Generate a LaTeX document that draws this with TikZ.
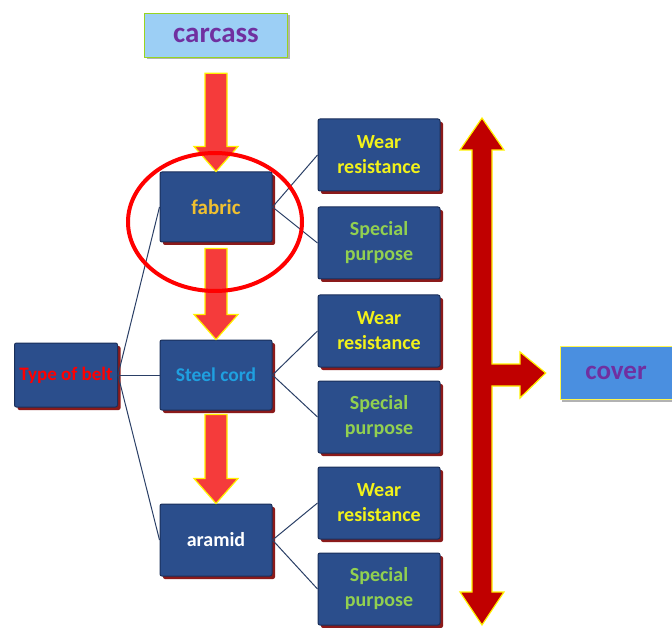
\documentclass[tikz,border=0pt]{standalone}
\usepackage{fontspec}
\setmainfont{Carlito}
\usetikzlibrary{calc,shadows}
\definecolor{boxblue}{HTML}{2B4E8C}
\definecolor{boxedge}{HTML}{1A2F5A}
\definecolor{shadowred}{HTML}{8B1A1A}
\definecolor{lightblue}{HTML}{9CCFF5}
\definecolor{coverblue}{HTML}{4A8FE0}
\definecolor{txtpurple}{HTML}{7030A0}
\definecolor{txtyellow}{HTML}{F2F21A}
\definecolor{txtgreen}{HTML}{92D050}
\definecolor{txtorange}{HTML}{F0C030}
\definecolor{txtcyan}{HTML}{1FA0E0}
\definecolor{arrowred}{HTML}{F53B3B}
\definecolor{darkred}{HTML}{C00000}
\definecolor{linecol}{HTML}{2A3F66}
\tikzset{
  darkbox/.style={draw=boxedge, line width=1pt, fill=boxblue, rounded corners=2pt,
    drop shadow={fill=shadowred, shadow xshift=3pt, shadow yshift=-3pt, opacity=1},
    align=center, font=\bfseries, inner sep=2pt},
  lightbox/.style={draw=yellow!60!green, line width=0.6pt, fill=lightblue,
    drop shadow={fill=gray!60, shadow xshift=2pt, shadow yshift=-2pt, opacity=1},
    font=\bfseries\fontsize{29}{31}\selectfont, text=txtpurple},
  fatarrow/.style={fill=arrowred, draw=yellow, line width=1.2pt, line join=miter},
  link/.style={draw=linecol, line width=1pt},
}
\newcommand\fatarrow[3]{%
  \draw[fatarrow] let \p1=($(#1.south)+(0,-#3)$), \p2=(#2.north) in
    (\x1-11pt,\y1) -- (\x1+11pt,\y1) -- (\x1+11pt,\y2+25pt) -- (\x1+22pt,\y2+25pt)
    -- (\x2,\y2) -- (\x1-22pt,\y2+25pt) -- (\x1-11pt,\y2+25pt) -- cycle;}
\begin{document}
\begin{tikzpicture}[x=1pt,y=-1pt]
\useasboundingbox (0,0) rectangle (672,628);
% left column
\node[lightbox, minimum width=143pt, minimum height=44pt] (carcass) at (216,35) {carcass};
\node[darkbox, minimum width=112pt, minimum height=70pt, text=txtorange, font=\bfseries\fontsize{21}{23}\selectfont] (fabric) at (216,207) {fabric};
\node[darkbox, minimum width=112pt, minimum height=70pt, text=txtcyan, font=\bfseries\fontsize{19.5}{22}\selectfont] (steel) at (216,375) {Steel cord};
\node[darkbox, minimum width=112pt, minimum height=72pt, text=white, font=\bfseries\fontsize{20}{22}\selectfont] (aramid) at (216,540) {aramid};
\node[darkbox, minimum width=103pt, minimum height=64pt, text=red, font=\bfseries\fontsize{19}{21}\selectfont, inner sep=0pt] (type) at (66,375) {Type of belt};
% right column
\tikzset{wr/.style={darkbox, minimum width=122pt, minimum height=72pt, text=txtyellow, font=\bfseries\fontsize{20}{25}\selectfont},
         sp/.style={darkbox, minimum width=122pt, minimum height=72pt, text=txtgreen, font=\bfseries\fontsize{20}{25}\selectfont}}
\node[wr] (w1) at (379,155) {Wear\\resistance};
\node[sp] (s1) at (379,243) {Special\\purpose};
\node[wr] (w2) at (379,331) {Wear\\resistance};
\node[sp] (s2) at (379,417) {Special\\purpose};
\node[wr] (w3) at (379,503) {Wear\\resistance};
\node[sp] (s3) at (379,589) {Special\\purpose};
\node[lightbox, fill=coverblue, draw=yellow!70, minimum width=112pt, minimum height=53pt, font=\bfseries\fontsize{27}{29}\selectfont] (cover) at (616,373) {cover};
% links
\draw[link] (type.east) -- (fabric.west);
\draw[link] (type.east) -- (steel.west);
\draw[link] (type.east) -- (aramid.west);
\foreach \a/\b/\c in {fabric/w1/s1, steel/w2/s2, aramid/w3/s3}{
  \draw[link] (\a.east) -- (\b.west);
  \draw[link] (\a.east) -- (\c.west);
}
% red arrows
\fatarrow{carcass}{fabric}{16pt}
\fatarrow{fabric}{steel}{6pt}
\fatarrow{steel}{aramid}{4pt}
% ellipse
\draw[red, line width=4pt] (215,222) ellipse [x radius=87, y radius=69];
% big double arrow
\coordinate (top) at (482,118);
\coordinate (bot) at (482,625);
\draw[fill=darkred, draw=yellow, line width=1.2pt, line join=miter]
  (top) -- (504,150) -- (492,150) -- (492,364) -- (520,364) -- (520,352)
  -- ($(cover.west)+(-14pt,0)$) -- (520,398) -- (520,386) -- (492,386) -- (492,592)
  -- (504,592) -- (bot) -- (460,592) -- (472,592) -- (472,150) -- (460,150) -- cycle;
\end{tikzpicture}
\end{document}
